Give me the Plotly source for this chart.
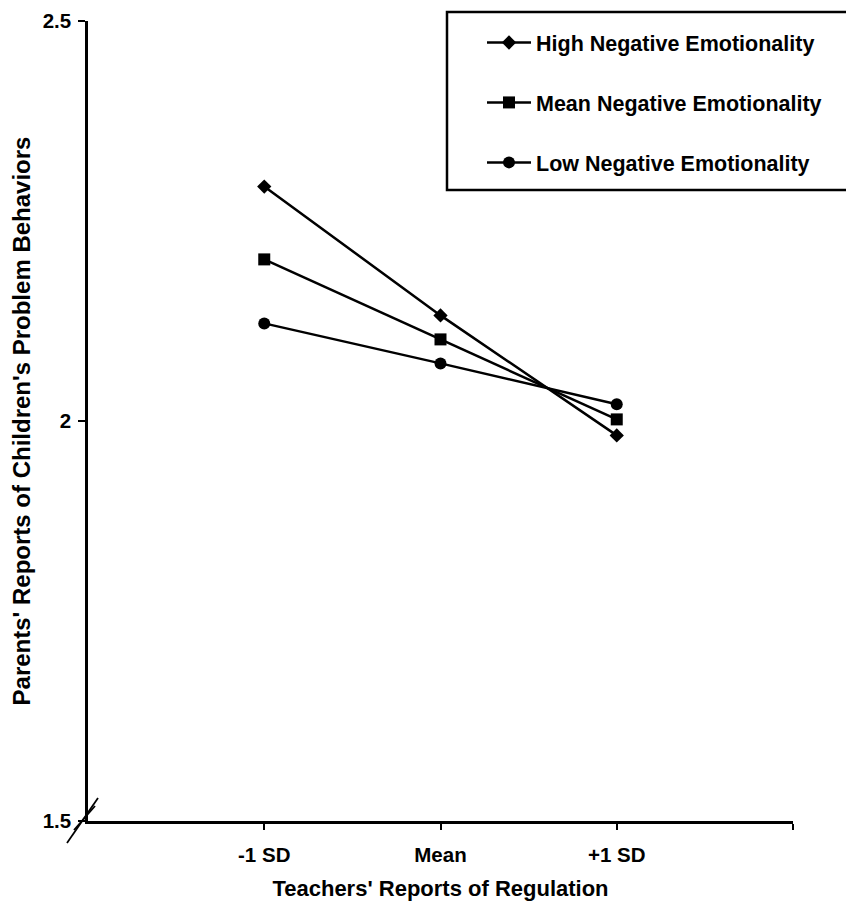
import plotly.graph_objects as go

categories = ["-1 SD", "Mean", "+1 SD"]
x_pos = [1, 2, 3]
high_ne = [2.293, 2.132, 1.982]
mean_ne = [2.202, 2.102, 2.002]
low_ne = [2.122, 2.072, 2.021]
series_names = ["High Negative Emotionality", "Mean Negative Emotionality", "Low Negative Emotionality"]
y_ticks = [1.5, 2, 2.5]
y_ticklabels = ["1.5", "2", "2.5"]

FONT = "Arial, Liberation Sans, sans-serif"

fig = go.Figure()
symbols = ["diamond", "square", "circle"]
sizes = [11, 12, 12]
for i, (name, vals) in enumerate(zip(series_names, [high_ne, mean_ne, low_ne])):
    fig.add_trace(go.Scatter(
        x=x_pos, y=vals, mode="lines+markers", name=name,
        legendgroup=f"g{i}",
        line=dict(color="black", width=2.5),
        marker=dict(symbol=symbols[i], size=sizes[i], color="black"),
    ))

# page has an 8px body margin: work in page pixel coordinates and offset
OFF = 8
L, R, T, B = 88 - OFF, 61, 21 - OFF, 80
W, H = 854 - OFF, 901 - OFF
pw, ph = W - L - R, H - T - B

def px(xp):
    return (xp - OFF - L) / pw

def py(yp):
    return (H - B - (yp - OFF)) / ph

shapes = [
    dict(type="rect", xref="paper", yref="paper", x0=px(447), x1=px(870), y0=py(190), y1=py(12),
         line=dict(color="black", width=2.5), fillcolor="rgba(0,0,0,0)"),
    dict(type="line", xref="paper", yref="paper", x0=px(67), y0=py(843), x1=px(98), y1=py(798),
         line=dict(color="black", width=1.8)),
    dict(type="line", xref="paper", yref="paper", x0=px(74), y0=py(830), x1=px(95), y1=py(806),
         line=dict(color="black", width=1.8)),
]

fig.update_layout(
    width=W, height=H,
    margin=dict(l=L, r=R, t=T, b=B, autoexpand=False),
    paper_bgcolor="white", plot_bgcolor="white",
    font=dict(family=FONT, color="black", size=20),
    showlegend=True,
    legend=dict(
        x=px(482), y=py(22), xanchor="left", yanchor="top",
        bgcolor="rgba(0,0,0,0)", borderwidth=0,
        font=dict(family=FONT, size=21.5, color="black", weight="bold"),
        tracegroupgap=29, itemwidth=44,
    ),
    shapes=shapes,
    xaxis=dict(
        range=[0, 4], tickvals=[1, 2, 3, 4], ticktext=categories + [""],
        automargin=False,
        showgrid=False, zeroline=False, showline=True, linecolor="black", linewidth=2.5,
        ticks="outside", ticklen=6, tickwidth=2, tickcolor="black",
        ticklabelstandoff=8,
        tickfont=dict(family=FONT, size=20.5, weight="bold"),
        title=dict(text="Teachers' Reports of Regulation", standoff=18,
                   font=dict(family=FONT, size=22, weight="bold")),
    ),
    yaxis=dict(
        range=[1.5, 2.5], tickvals=y_ticks, ticktext=y_ticklabels,
        automargin=False,
        showgrid=False, zeroline=False, showline=True, linecolor="black", linewidth=2.5,
        ticks="outside", ticklen=7, tickwidth=2, tickcolor="black",
        ticklabelstandoff=3,
        tickfont=dict(family=FONT, size=20.5, weight="bold"),
        title=dict(text="Parents' Reports of Children's Problem Behaviors", standoff=20,
                   font=dict(family=FONT, size=24, weight="bold")),
    ),
)

fig.write_html("out.html")
